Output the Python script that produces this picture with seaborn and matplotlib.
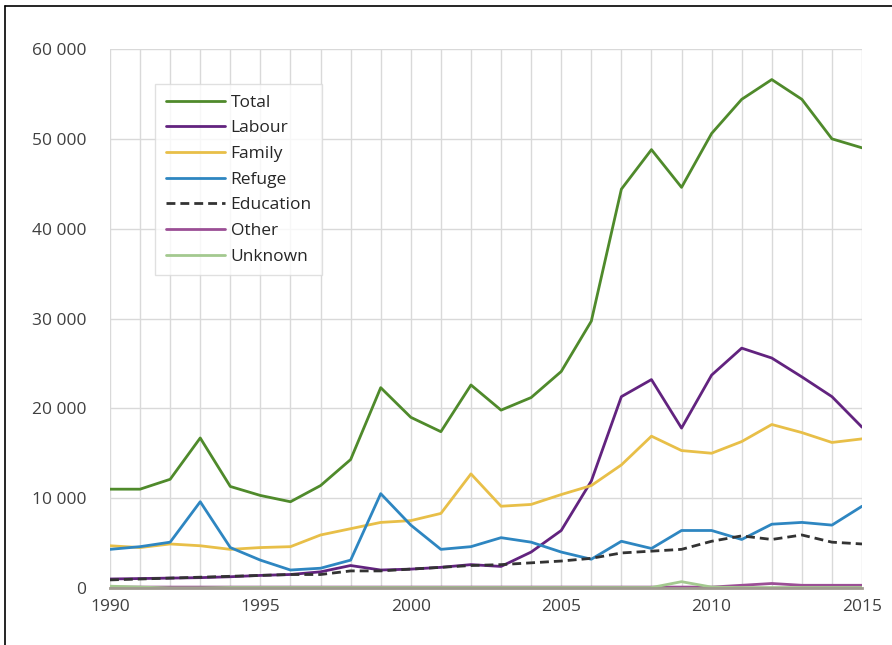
import matplotlib
matplotlib.use("Agg")
import matplotlib.pyplot as plt
import matplotlib.ticker as mticker
import pandas as pd
import seaborn as sns

years = list(range(1990, 2016))

total = [11000, 11000, 12100, 16700, 11300, 10300, 9600, 11400, 14300, 22300,
         19000, 17400, 22600, 19800, 21200, 24100, 29700, 44400, 48800, 44600,
         50600, 54400, 56600, 54400, 50000, 49000]
labour = [1000, 1050, 1100, 1150, 1250, 1400, 1500, 1800, 2500, 2000,
          2100, 2300, 2600, 2400, 4000, 6400, 11900, 21300, 23200, 17800,
          23700, 26700, 25600, 23500, 21300, 17900]
family = [4700, 4500, 4900, 4700, 4300, 4500, 4600, 5900, 6600, 7300,
          7500, 8300, 12700, 9100, 9300, 10400, 11400, 13700, 16900, 15300,
          15000, 16300, 18200, 17300, 16200, 16600]
refuge = [4300, 4600, 5100, 9600, 4500, 3100, 2000, 2200, 3100, 10500,
          7000, 4300, 4600, 5600, 5100, 4000, 3200, 5200, 4400, 6400,
          6400, 5400, 7100, 7300, 7000, 9100]
education = [900, 1000, 1100, 1200, 1300, 1400, 1500, 1500, 1900, 1900,
             2100, 2300, 2500, 2600, 2800, 3000, 3300, 3900, 4100, 4300,
             5200, 5800, 5400, 5900, 5100, 4900]
other = [100, 100, 100, 100, 100, 100, 100, 100, 100, 100,
         100, 100, 100, 100, 100, 100, 100, 100, 100, 100,
         100, 300, 500, 300, 300, 300]
unknown = [200, 100, 0, 0, 50, 50, 50, 50, 50, 50,
           50, 50, 50, 50, 50, 50, 50, 50, 50, 700,
           100, 50, 50, 50, 50, 50]

series_names = ["Total", "Labour", "Family", "Refuge", "Education", "Other", "Unknown"]
series_values = [total, labour, family, refuge, education, other, unknown]
colors = ["#4f8a2b", "#62237f", "#e8bf48", "#2e86c1", "#333333", "#9b4f95", "#a3c98f"]

rows = []
for name, vals in zip(series_names, series_values):
    for y, v in zip(years, vals):
        rows.append({"Year": y, "Value": v, "Series": name})
df = pd.DataFrame(rows)

sns.set_style("white")
plt.rcParams["font.family"] = ["Open Sans", "DejaVu Sans"]

fig = plt.figure(figsize=(8.92, 6.45), dpi=100)
ax = fig.add_axes([0.1233, 0.0884, 0.8431, 0.8356])

palette = dict(zip(series_names, colors))
dashes = {n: "" for n in series_names}
dashes["Education"] = (3.2, 1.8)

sns.lineplot(data=df, x="Year", y="Value", hue="Series", style="Series",
             hue_order=series_names, style_order=series_names,
             palette=palette, dashes=dashes, linewidth=2.0, ax=ax, legend=True)

ax.set_xlim(1990, 2015)
ax.set_ylim(0, 60000)
ax.set_xticks(range(1990, 2016, 5))
ax.set_xticks(years, minor=True)
ax.set_yticks(range(0, 60001, 10000))
ax.yaxis.set_major_formatter(mticker.FuncFormatter(lambda v, p: f"{int(v):,}".replace(",", " ")))
ax.grid(True, which="both", axis="x", color="#d9d9d9", linewidth=1.0)
ax.grid(True, which="major", axis="y", color="#d9d9d9", linewidth=1.0)
ax.set_axisbelow(True)
ax.tick_params(axis="both", which="both", length=0, labelsize=12.5, colors="#404040")
ax.tick_params(axis="y", pad=17)
ax.tick_params(axis="x", pad=8)
ax.set_xlabel("")
ax.set_ylabel("")
for side in ["top", "right", "left"]:
    ax.spines[side].set_visible(False)
ax.spines["bottom"].set_color("#a09a90")
ax.spines["bottom"].set_linewidth(2.0)

leg = ax.legend(loc="upper left", bbox_to_anchor=(0.06, 0.935), frameon=True,
                fontsize=12.5, handlelength=3.4, handletextpad=0.35,
                labelspacing=0.55, borderpad=0.6, borderaxespad=0.0, fancybox=False)
leg.get_frame().set_edgecolor("#d9d9d9")
leg.get_frame().set_linewidth(1.0)
for t in leg.get_texts():
    t.set_color("#262626")

# outer frame lines on the left and top edges
fig.add_artist(plt.Line2D([0.0056, 0.0056], [0, 0.991], color="black", linewidth=1.2,
                          transform=fig.transFigure))
fig.add_artist(plt.Line2D([0.0056, 1.0], [0.991, 0.991], color="black", linewidth=1.2,
                          transform=fig.transFigure))

fig.savefig("out.png", dpi=100)
